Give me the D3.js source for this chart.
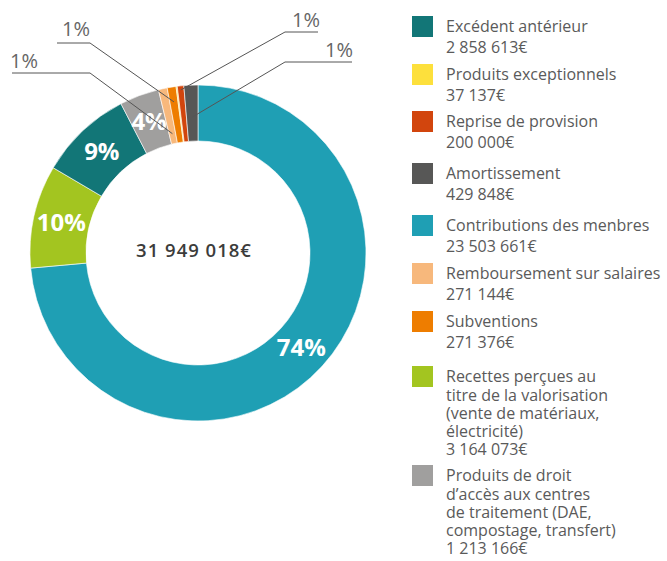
<!DOCTYPE html>
<html>
<head>
<meta charset="utf-8">
<script src="https://d3js.org/d3.v7.min.js"></script>
<style>
  html, body { margin: 0; padding: 0; background: #fff; }
  svg { display: block; font-family: "Open Sans", "DejaVu Sans", sans-serif; }
</style>
</head>
<body>
<svg id="chart" width="667" height="561"></svg>
<script>
// Revenue categories, in legend order
const categories = [
  "Excédent antérieur",
  "Produits exceptionnels",
  "Reprise de provision",
  "Amortissement",
  "Contributions des menbres",
  "Remboursement sur salaires",
  "Subventions",
  "Recettes perçues au titre de la valorisation (vente de matériaux, électricité)",
  "Produits de droit d’accès aux centres de traitement (DAE, compostage, transfert)"
];

// Amounts in euros
const amounts = [2858613, 37137, 200000, 429848, 23503661, 271144, 271376, 3164073, 1213166];

// Legend wording, broken into lines
const legendLines = [
  ["Excédent antérieur"],
  ["Produits exceptionnels"],
  ["Reprise de provision"],
  ["Amortissement"],
  ["Contributions des menbres"],
  ["Remboursement sur salaires"],
  ["Subventions"],
  ["Recettes perçues au", "titre de la valorisation", "(vente de matériaux,", "électricité)"],
  ["Produits de droit", "d’accès aux centres", "de traitement (DAE,", "compostage, transfert)"]
];

// Slice colours
const colors = ["#127677", "#fde03c", "#d2450d", "#575756", "#1f9fb4", "#f7b87c", "#ee7d00", "#a3c520", "#a09f9e"];

// Order of the slices around the ring, clockwise from 12 o'clock
const pieOrder = [4, 7, 0, 8, 5, 6, 1, 2, 3];

// Small slices labelled outside the ring with leader lines
const calloutSlices = [5, 6, 2, 3];

// ---- layout ----
const W = 667, H = 561;
const cx = 198, cy = 253, outerR = 168, innerR = 112;
const legendX = 412, swatch = 21, legendTextX = 446;
const legendTops = [16, 64, 111, 163, 215, 263, 311, 366, 465];
const callouts = {
  5: { tx: 10,  ty: 68, ux0: 12,  ux1: 90,  uy: 73, anchorR: 122 },
  6: { tx: 62,  ty: 36, ux0: 57,  ux1: 90,  uy: 43, anchorR: 153 },
  2: { tx: 292, ty: 27, ux0: 318, ux1: 285, uy: 32, anchorR: 164 },
  3: { tx: 325, ty: 57, ux0: 352, ux1: 285, uy: 62, anchorR: 136 }
};

const fr = d3.formatLocale({ decimal: ",", thousands: " ", grouping: [3], currency: ["", "€"] });
const euro = fr.format("$,");
const total = d3.sum(amounts);
const pct = v => Math.round(v / total * 100) + "%";

const svg = d3.select("#chart");

// ---- donut ----
const pie = d3.pie().sort(null).value(i => amounts[i]);
const arcs = pie(pieOrder);
const arc = d3.arc().innerRadius(innerR).outerRadius(outerR);

const g = svg.append("g").attr("transform", `translate(${cx},${cy})`);

g.selectAll("path.slice")
  .data(arcs)
  .join("path")
  .attr("class", "slice")
  .attr("d", arc)
  .attr("fill", d => colors[d.data])
  .attr("stroke", "#ffffff")
  .attr("stroke-width", 0.6);

// percentage labels inside the ring for the larger slices
const labelArc = d3.arc().innerRadius(140).outerRadius(140);
g.selectAll("text.pct")
  .data(arcs.filter(d => amounts[d.data] / total >= 0.02))
  .join("text")
  .attr("class", "pct")
  .attr("transform", d => `translate(${labelArc.centroid(d)})`)
  .attr("text-anchor", "middle")
  .attr("dy", "0.36em")
  .attr("fill", "#ffffff")
  .attr("font-weight", 700)
  .attr("font-size", 24)
  .text(d => pct(amounts[d.data]));

// leader lines and labels for the small slices
calloutSlices.forEach(i => {
  const d = arcs.find(a => a.data === i);
  const c = callouts[i];
  const a = d3.arc().innerRadius(c.anchorR).outerRadius(c.anchorR).centroid(d);
  const ax = cx + a[0], ay = cy + a[1];
  svg.append("polyline")
    .attr("points", `${c.ux0},${c.uy} ${c.ux1},${c.uy} ${ax},${ay}`)
    .attr("fill", "none")
    .attr("stroke", "#555555")
    .attr("stroke-width", 1);
  svg.append("text")
    .attr("x", c.tx)
    .attr("y", c.ty)
    .attr("fill", "#666666")
    .attr("font-size", 20)
    .text(pct(amounts[i]));
});

// total in the centre
svg.append("text")
  .attr("x", cx - 4)
  .attr("y", cy + 4)
  .attr("text-anchor", "middle")
  .attr("fill", "#3c3c3b")
  .attr("font-weight", 600)
  .attr("font-size", 18.5)
  .attr("letter-spacing", 1)
  .text(euro(total));

// ---- legend ----
const legend = svg.append("g");
categories.forEach((name, i) => {
  const top = legendTops[i];
  legend.append("rect")
    .attr("x", legendX)
    .attr("y", top)
    .attr("width", swatch)
    .attr("height", swatch)
    .attr("fill", colors[i]);
  const lines = legendLines[i].concat([euro(amounts[i])]);
  const step = lines.length > 2 ? 18.2 : 20.6;
  const t = legend.append("text")
    .attr("fill", "#5a5a5a")
    .attr("font-size", 16);
  lines.forEach((ln, k) => {
    t.append("tspan")
      .attr("x", legendTextX)
      .attr("y", top + 16.3 + k * step)
      .text(ln);
  });
});
</script>
</body>
</html>
